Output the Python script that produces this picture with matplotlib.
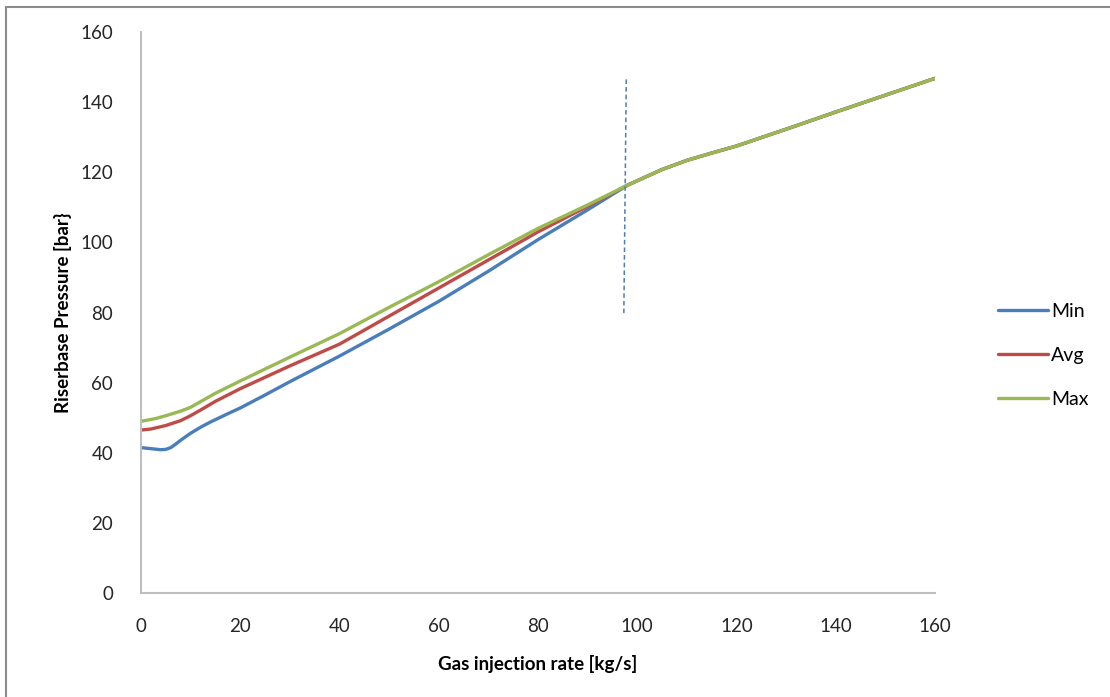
import matplotlib.pyplot as plt
from matplotlib.patches import Rectangle

plt.rcParams['font.family'] = ['Lato', 'DejaVu Sans']

# shared tail (all three curves merge after ~98 kg/s)
tail_x = [100, 105, 110, 115, 120, 130, 140, 150, 160]
tail_y = [117.6, 120.8, 123.4, 125.5, 127.5, 132.3, 137.2, 142.0, 146.8]

min_x = [0, 2, 4, 5, 6, 7, 8, 10, 12, 14, 18, 20, 25, 30, 40, 50, 60, 70, 80, 90, 98]
min_y = [41.5, 41.2, 40.9, 41.0, 41.5, 42.5, 43.6, 45.6, 47.3, 48.8, 51.5, 52.8,
         56.5, 60.3, 67.6, 75.3, 83.2, 91.8, 100.8, 109.3, 116.3]

avg_x = [0, 2, 5, 8, 10, 12, 15, 20, 30, 40, 50, 60, 70, 80, 90, 98]
avg_y = [46.5, 46.8, 47.8, 49.2, 50.6, 52.2, 54.7, 58.3, 64.8, 71.0, 79.0,
         87.0, 95.0, 103.0, 110.3, 116.3]

max_x = [0, 3, 5, 8, 10, 12, 15, 20, 30, 40, 50, 60, 70, 80, 90, 98]
max_y = [49.0, 49.8, 50.6, 51.9, 53.0, 54.6, 57.0, 60.5, 67.3, 74.0, 81.5,
         88.8, 96.5, 104.0, 110.7, 116.3]

marker_x = [97.8, 97.3]
marker_y = [146.5, 79.0]

series = [("Min", min_x, min_y, "#4A7EBB"),
          ("Avg", avg_x, avg_y, "#BE4B48"),
          ("Max", max_x, max_y, "#98B954")]

fig = plt.figure(figsize=(11.1, 6.97), dpi=100)
ax = fig.add_axes([0.127, 0.149, 0.7153, 0.805])

for name, xs, ys, col in series:
    ax.plot(xs + tail_x, ys + tail_y, color=col, lw=2.4, label=name,
            solid_capstyle='round', solid_joinstyle='round')

ax.plot(marker_x, marker_y, color="#4A7EBB", lw=1.1, ls=(0, (3, 2)))

ax.set_xlim(0, 160)
ax.set_ylim(0, 160)
ax.set_xticks(range(0, 161, 20))
ax.set_yticks(range(0, 161, 20))
ax.tick_params(length=0, labelsize=13.5, colors="#262626")
ax.tick_params(axis='x', pad=18)
ax.tick_params(axis='y', pad=20)
for side in ['top', 'right']:
    ax.spines[side].set_visible(False)
for side in ['left', 'bottom']:
    ax.spines[side].set_color("#BFBFBF")
    ax.spines[side].set_linewidth(1.5)

ax.set_xlabel("Gas injection rate [kg/s]", fontsize=13.5, fontweight='bold',
              labelpad=14)
ax.set_ylabel("Riserbase Pressure [bar}", fontsize=13.5, fontweight='bold',
              labelpad=6)

fig.legend(loc='center left', bbox_to_anchor=(0.883, 0.49), frameon=False,
           fontsize=14, handlelength=2.6, handletextpad=0.15, labelspacing=1.4)

# outer frame of the chart area
fig.add_artist(Rectangle((0.005, -0.05), 1.2, 1.04, transform=fig.transFigure,
                         fill=False, edgecolor="#8C8C8C", lw=1.5))

fig.savefig("out.png", dpi=100)
